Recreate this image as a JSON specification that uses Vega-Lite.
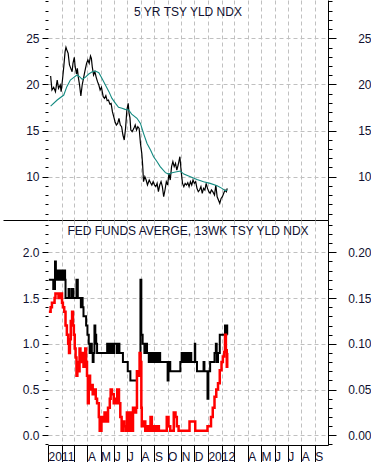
{
  "$schema": "https://vega.github.io/schema/vega-lite/v6.json",
  "background": "white",
  "padding": {"left": 0, "top": -5, "right": 0, "bottom": 0},
  "spacing": 0,
  "bounds": "flush",
  "config": {
    "view": {"stroke": null},
    "font": "Liberation Sans",
    "axis": {
      "labelFont": "Liberation Sans",
      "labelFontSize": 12,
      "labelColor": "#101030",
      "gridColor": "#c0c0c0",
      "gridDash": [4, 3],
      "gridWidth": 1,
      "tickColor": "#000000",
      "domainColor": "#000000",
      "labelOverlap": false,
      "labelFlush": false,
      "labelBound": false
    },
    "title": {"font": "Liberation Sans", "fontSize": 12, "fontWeight": "normal", "color": "#101030", "anchor": "middle", "frame": "group"}
  },
  "datasets": {
    "yld5": [
      {"date": "2011-01-07", "v": 20.91}, {"date": "2011-01-10", "v": 19.40}, {"date": "2011-01-14", "v": 19.69}, {"date": "2011-01-18", "v": 19.22},
      {"date": "2011-01-22", "v": 20.48}, {"date": "2011-01-25", "v": 19.58}, {"date": "2011-01-29", "v": 19.94}, {"date": "2011-01-31", "v": 19.22},
      {"date": "2011-02-03", "v": 20.48}, {"date": "2011-02-06", "v": 21.92}, {"date": "2011-02-09", "v": 23.55}, {"date": "2011-02-11", "v": 24.02},
      {"date": "2011-02-13", "v": 23.73}, {"date": "2011-02-16", "v": 23.37}, {"date": "2011-02-19", "v": 22.11}, {"date": "2011-02-22", "v": 21.74},
      {"date": "2011-02-25", "v": 21.38}, {"date": "2011-02-27", "v": 22.29}, {"date": "2011-03-02", "v": 22.94}, {"date": "2011-03-04", "v": 21.92},
      {"date": "2011-03-07", "v": 21.13}, {"date": "2011-03-09", "v": 21.74}, {"date": "2011-03-11", "v": 20.84}, {"date": "2011-03-14", "v": 19.94},
      {"date": "2011-03-17", "v": 18.75}, {"date": "2011-03-20", "v": 19.94}, {"date": "2011-03-23", "v": 20.66}, {"date": "2011-03-26", "v": 21.38},
      {"date": "2011-03-30", "v": 22.29}, {"date": "2011-04-02", "v": 22.65}, {"date": "2011-04-05", "v": 22.29}, {"date": "2011-04-08", "v": 23.08},
      {"date": "2011-04-10", "v": 22.83}, {"date": "2011-04-12", "v": 21.92}, {"date": "2011-04-15", "v": 21.02}, {"date": "2011-04-18", "v": 21.38},
      {"date": "2011-04-21", "v": 20.77}, {"date": "2011-04-24", "v": 20.30}, {"date": "2011-04-27", "v": 19.94}, {"date": "2011-04-30", "v": 19.40},
      {"date": "2011-05-03", "v": 19.69}, {"date": "2011-05-07", "v": 18.67}, {"date": "2011-05-10", "v": 18.49}, {"date": "2011-05-13", "v": 18.78},
      {"date": "2011-05-16", "v": 18.24}, {"date": "2011-05-19", "v": 18.31}, {"date": "2011-05-22", "v": 17.88}, {"date": "2011-05-25", "v": 17.95},
      {"date": "2011-05-28", "v": 17.05}, {"date": "2011-05-31", "v": 16.51}, {"date": "2011-06-03", "v": 15.96}, {"date": "2011-06-06", "v": 15.60},
      {"date": "2011-06-09", "v": 15.78}, {"date": "2011-06-12", "v": 16.33}, {"date": "2011-06-15", "v": 15.60}, {"date": "2011-06-18", "v": 15.42},
      {"date": "2011-06-21", "v": 14.52}, {"date": "2011-06-24", "v": 13.98}, {"date": "2011-06-27", "v": 15.24}, {"date": "2011-06-30", "v": 17.23},
      {"date": "2011-07-03", "v": 17.95}, {"date": "2011-07-05", "v": 16.87}, {"date": "2011-07-07", "v": 16.40}, {"date": "2011-07-09", "v": 15.06},
      {"date": "2011-07-12", "v": 14.88}, {"date": "2011-07-16", "v": 15.24}, {"date": "2011-07-19", "v": 15.60}, {"date": "2011-07-22", "v": 15.06},
      {"date": "2011-07-25", "v": 15.42}, {"date": "2011-07-28", "v": 15.24}, {"date": "2011-07-31", "v": 13.61}, {"date": "2011-08-03", "v": 12.53},
      {"date": "2011-08-05", "v": 11.27}, {"date": "2011-08-07", "v": 9.46}, {"date": "2011-08-10", "v": 10.00}, {"date": "2011-08-13", "v": 9.64},
      {"date": "2011-08-16", "v": 9.10}, {"date": "2011-08-20", "v": 9.64}, {"date": "2011-08-23", "v": 9.35}, {"date": "2011-08-26", "v": 9.10},
      {"date": "2011-08-29", "v": 9.46}, {"date": "2011-09-01", "v": 9.10}, {"date": "2011-09-04", "v": 8.92}, {"date": "2011-09-07", "v": 9.28},
      {"date": "2011-09-10", "v": 8.38}, {"date": "2011-09-13", "v": 9.10}, {"date": "2011-09-16", "v": 9.46}, {"date": "2011-09-19", "v": 8.92},
      {"date": "2011-09-22", "v": 7.83}, {"date": "2011-09-25", "v": 8.56}, {"date": "2011-09-28", "v": 9.46}, {"date": "2011-10-01", "v": 9.10},
      {"date": "2011-10-04", "v": 10.36}, {"date": "2011-10-07", "v": 9.64}, {"date": "2011-10-10", "v": 11.09}, {"date": "2011-10-13", "v": 11.63},
      {"date": "2011-10-16", "v": 11.09}, {"date": "2011-10-19", "v": 11.45}, {"date": "2011-10-22", "v": 10.72}, {"date": "2011-10-25", "v": 11.27},
      {"date": "2011-10-29", "v": 12.17}, {"date": "2011-11-01", "v": 10.54}, {"date": "2011-11-04", "v": 9.28}, {"date": "2011-11-07", "v": 8.92},
      {"date": "2011-11-10", "v": 9.28}, {"date": "2011-11-13", "v": 9.10}, {"date": "2011-11-16", "v": 9.35}, {"date": "2011-11-19", "v": 8.92},
      {"date": "2011-11-22", "v": 9.46}, {"date": "2011-11-25", "v": 9.10}, {"date": "2011-11-28", "v": 9.64}, {"date": "2011-12-01", "v": 9.28},
      {"date": "2011-12-04", "v": 9.46}, {"date": "2011-12-07", "v": 8.74}, {"date": "2011-12-10", "v": 8.38}, {"date": "2011-12-13", "v": 8.56},
      {"date": "2011-12-16", "v": 8.92}, {"date": "2011-12-19", "v": 8.20}, {"date": "2011-12-22", "v": 8.74}, {"date": "2011-12-25", "v": 8.56},
      {"date": "2011-12-28", "v": 9.28}, {"date": "2011-12-31", "v": 8.74}, {"date": "2012-01-03", "v": 8.38}, {"date": "2012-01-06", "v": 8.20},
      {"date": "2012-01-09", "v": 8.56}, {"date": "2012-01-12", "v": 8.38}, {"date": "2012-01-16", "v": 8.02}, {"date": "2012-01-19", "v": 9.10},
      {"date": "2012-01-22", "v": 7.83}, {"date": "2012-01-25", "v": 7.47}, {"date": "2012-01-28", "v": 7.11}, {"date": "2012-01-31", "v": 7.65},
      {"date": "2012-02-03", "v": 7.83}, {"date": "2012-02-06", "v": 8.20}, {"date": "2012-02-09", "v": 8.56}, {"date": "2012-02-12", "v": 8.38},
      {"date": "2012-02-14", "v": 8.74}
    ],
    "yld5ma": [
      {"date": "2011-01-07", "v": 17.66}, {"date": "2011-01-22", "v": 18.31}, {"date": "2011-02-06", "v": 18.85}, {"date": "2011-02-13", "v": 19.76},
      {"date": "2011-02-21", "v": 20.48}, {"date": "2011-03-01", "v": 20.77}, {"date": "2011-03-08", "v": 21.02}, {"date": "2011-03-14", "v": 20.84},
      {"date": "2011-03-20", "v": 20.55}, {"date": "2011-03-27", "v": 20.77}, {"date": "2011-04-04", "v": 21.13}, {"date": "2011-04-12", "v": 21.38},
      {"date": "2011-04-19", "v": 21.45}, {"date": "2011-04-27", "v": 21.27}, {"date": "2011-05-04", "v": 20.66}, {"date": "2011-05-12", "v": 19.94},
      {"date": "2011-05-20", "v": 19.22}, {"date": "2011-05-27", "v": 18.49}, {"date": "2011-06-04", "v": 17.95}, {"date": "2011-06-11", "v": 17.52},
      {"date": "2011-06-19", "v": 17.41}, {"date": "2011-06-26", "v": 17.30}, {"date": "2011-07-04", "v": 17.23}, {"date": "2011-07-11", "v": 16.79},
      {"date": "2011-07-23", "v": 16.33}, {"date": "2011-07-31", "v": 15.78}, {"date": "2011-08-07", "v": 14.70}, {"date": "2011-08-15", "v": 13.61},
      {"date": "2011-08-23", "v": 12.89}, {"date": "2011-08-30", "v": 12.17}, {"date": "2011-09-07", "v": 11.63}, {"date": "2011-09-14", "v": 11.09},
      {"date": "2011-09-26", "v": 10.44}, {"date": "2011-10-03", "v": 10.29}, {"date": "2011-10-11", "v": 10.44}, {"date": "2011-10-22", "v": 10.54},
      {"date": "2011-10-30", "v": 10.62}, {"date": "2011-11-07", "v": 10.29}, {"date": "2011-11-22", "v": 10.00}, {"date": "2011-12-07", "v": 9.71},
      {"date": "2011-12-22", "v": 9.46}, {"date": "2012-01-06", "v": 9.28}, {"date": "2012-01-22", "v": 9.03}, {"date": "2012-02-02", "v": 8.74},
      {"date": "2012-02-09", "v": 8.49}, {"date": "2012-02-14", "v": 8.56}
    ],
    "fedfunds": [
      {"date": "2011-01-03", "v": 1.7}, {"date": "2011-01-13", "v": 1.6}, {"date": "2011-01-17", "v": 1.9}, {"date": "2011-01-19", "v": 1.7},
      {"date": "2011-01-21", "v": 1.8}, {"date": "2011-01-24", "v": 1.7}, {"date": "2011-01-26", "v": 1.8}, {"date": "2011-01-28", "v": 1.7},
      {"date": "2011-02-01", "v": 1.8}, {"date": "2011-02-03", "v": 1.7}, {"date": "2011-02-07", "v": 1.8}, {"date": "2011-02-09", "v": 1.7},
      {"date": "2011-02-10", "v": 1.5}, {"date": "2011-02-17", "v": 1.6}, {"date": "2011-02-18", "v": 1.5}, {"date": "2011-02-23", "v": 1.6},
      {"date": "2011-02-24", "v": 1.5}, {"date": "2011-02-27", "v": 1.6}, {"date": "2011-02-28", "v": 1.5}, {"date": "2011-03-07", "v": 1.7},
      {"date": "2011-03-10", "v": 1.5}, {"date": "2011-03-17", "v": 1.4}, {"date": "2011-03-18", "v": 1.5}, {"date": "2011-03-21", "v": 1.4},
      {"date": "2011-03-23", "v": 1.3}, {"date": "2011-03-29", "v": 1.2}, {"date": "2011-04-01", "v": 1.1}, {"date": "2011-04-04", "v": 1.0},
      {"date": "2011-04-06", "v": 0.9}, {"date": "2011-04-08", "v": 1.0}, {"date": "2011-04-11", "v": 0.9}, {"date": "2011-04-13", "v": 0.8},
      {"date": "2011-04-15", "v": 0.9}, {"date": "2011-04-17", "v": 1.2}, {"date": "2011-04-19", "v": 1.1}, {"date": "2011-04-21", "v": 1.0},
      {"date": "2011-04-23", "v": 0.9}, {"date": "2011-05-16", "v": 1.0}, {"date": "2011-05-17", "v": 0.9}, {"date": "2011-05-18", "v": 1.0},
      {"date": "2011-05-19", "v": 0.9}, {"date": "2011-05-23", "v": 1.0}, {"date": "2011-05-24", "v": 0.9}, {"date": "2011-05-26", "v": 1.0},
      {"date": "2011-05-30", "v": 0.9}, {"date": "2011-06-01", "v": 1.0}, {"date": "2011-06-07", "v": 0.9}, {"date": "2011-06-10", "v": 1.0},
      {"date": "2011-06-13", "v": 0.9}, {"date": "2011-06-21", "v": 0.8}, {"date": "2011-07-02", "v": 0.7}, {"date": "2011-07-08", "v": 0.6},
      {"date": "2011-07-23", "v": 0.7}, {"date": "2011-07-31", "v": 1.7}, {"date": "2011-08-02", "v": 1.1}, {"date": "2011-08-05", "v": 1.0},
      {"date": "2011-08-09", "v": 0.9}, {"date": "2011-08-11", "v": 1.0}, {"date": "2011-08-15", "v": 0.9}, {"date": "2011-08-19", "v": 0.8},
      {"date": "2011-08-23", "v": 0.9}, {"date": "2011-08-26", "v": 0.8}, {"date": "2011-08-30", "v": 0.9}, {"date": "2011-09-03", "v": 0.8},
      {"date": "2011-09-07", "v": 0.9}, {"date": "2011-09-09", "v": 0.8}, {"date": "2011-09-12", "v": 0.9}, {"date": "2011-09-14", "v": 0.8},
      {"date": "2011-10-01", "v": 0.6}, {"date": "2011-10-03", "v": 0.8}, {"date": "2011-10-07", "v": 0.7}, {"date": "2011-10-30", "v": 0.8},
      {"date": "2011-11-02", "v": 0.9}, {"date": "2011-11-04", "v": 0.8}, {"date": "2011-11-07", "v": 0.9}, {"date": "2011-11-10", "v": 0.8},
      {"date": "2011-11-14", "v": 0.9}, {"date": "2011-11-17", "v": 0.8}, {"date": "2011-11-20", "v": 0.9}, {"date": "2011-11-24", "v": 0.8},
      {"date": "2011-12-02", "v": 1.0}, {"date": "2011-12-03", "v": 0.8}, {"date": "2011-12-07", "v": 0.7}, {"date": "2011-12-22", "v": 0.8},
      {"date": "2011-12-24", "v": 0.7}, {"date": "2011-12-31", "v": 0.4}, {"date": "2012-01-02", "v": 0.7}, {"date": "2012-01-06", "v": 0.8},
      {"date": "2012-01-16", "v": 0.9}, {"date": "2012-01-19", "v": 1.0}, {"date": "2012-01-21", "v": 0.8}, {"date": "2012-01-24", "v": 0.9},
      {"date": "2012-01-28", "v": 1.1}, {"date": "2012-02-09", "v": 1.2}, {"date": "2012-02-11", "v": 1.1}, {"date": "2012-02-12", "v": 1.2},
      {"date": "2012-02-14", "v": 1.1}
    ],
    "tbill": [
      {"date": "2011-01-03", "v": 1.35}, {"date": "2011-01-07", "v": 1.40}, {"date": "2011-01-10", "v": 1.45}, {"date": "2011-01-16", "v": 1.50},
      {"date": "2011-01-18", "v": 1.55}, {"date": "2011-01-25", "v": 1.50}, {"date": "2011-01-29", "v": 1.55}, {"date": "2011-02-02", "v": 1.45},
      {"date": "2011-02-04", "v": 1.40}, {"date": "2011-02-07", "v": 1.35}, {"date": "2011-02-10", "v": 1.20}, {"date": "2011-02-13", "v": 1.10},
      {"date": "2011-02-16", "v": 1.00}, {"date": "2011-02-18", "v": 0.90}, {"date": "2011-02-20", "v": 1.05}, {"date": "2011-02-22", "v": 1.25},
      {"date": "2011-02-25", "v": 1.35}, {"date": "2011-02-27", "v": 1.20}, {"date": "2011-03-01", "v": 1.10}, {"date": "2011-03-03", "v": 0.95},
      {"date": "2011-03-05", "v": 0.85}, {"date": "2011-03-07", "v": 0.65}, {"date": "2011-03-09", "v": 0.80}, {"date": "2011-03-11", "v": 0.70},
      {"date": "2011-03-14", "v": 0.95}, {"date": "2011-03-16", "v": 0.80}, {"date": "2011-03-20", "v": 0.90}, {"date": "2011-03-23", "v": 0.75},
      {"date": "2011-03-27", "v": 0.95}, {"date": "2011-03-29", "v": 0.80}, {"date": "2011-03-31", "v": 0.65}, {"date": "2011-04-02", "v": 0.35},
      {"date": "2011-04-04", "v": 0.65}, {"date": "2011-04-07", "v": 0.50}, {"date": "2011-04-10", "v": 0.55}, {"date": "2011-04-13", "v": 0.45},
      {"date": "2011-04-16", "v": 0.50}, {"date": "2011-04-20", "v": 0.40}, {"date": "2011-04-23", "v": 0.35}, {"date": "2011-04-27", "v": 0.20},
      {"date": "2011-04-29", "v": 0.05}, {"date": "2011-05-03", "v": 0.20}, {"date": "2011-05-06", "v": 0.15}, {"date": "2011-05-10", "v": 0.25},
      {"date": "2011-05-14", "v": 0.15}, {"date": "2011-05-18", "v": 0.30}, {"date": "2011-05-22", "v": 0.40}, {"date": "2011-05-24", "v": 0.50},
      {"date": "2011-05-27", "v": 0.45}, {"date": "2011-05-31", "v": 0.35}, {"date": "2011-06-03", "v": 0.40}, {"date": "2011-06-06", "v": 0.35},
      {"date": "2011-06-08", "v": 0.50}, {"date": "2011-06-12", "v": 0.35}, {"date": "2011-06-15", "v": 0.20}, {"date": "2011-06-18", "v": 0.05},
      {"date": "2011-06-21", "v": 0.15}, {"date": "2011-06-24", "v": 0.10}, {"date": "2011-06-27", "v": 0.05}, {"date": "2011-06-30", "v": 0.25},
      {"date": "2011-07-04", "v": 0.05}, {"date": "2011-07-08", "v": 0.25}, {"date": "2011-07-11", "v": 0.05}, {"date": "2011-07-14", "v": 0.30},
      {"date": "2011-07-18", "v": 0.25}, {"date": "2011-07-21", "v": 0.30}, {"date": "2011-07-23", "v": 0.70}, {"date": "2011-07-26", "v": 0.65},
      {"date": "2011-07-29", "v": 0.90}, {"date": "2011-07-31", "v": 0.80}, {"date": "2011-08-02", "v": 0.30}, {"date": "2011-08-03", "v": 0.10},
      {"date": "2011-08-07", "v": 0.15}, {"date": "2011-08-11", "v": 0.05}, {"date": "2011-08-15", "v": 0.10}, {"date": "2011-08-19", "v": 0.05},
      {"date": "2011-08-23", "v": 0.20}, {"date": "2011-08-26", "v": 0.05}, {"date": "2011-08-30", "v": 0.10}, {"date": "2011-09-03", "v": 0.05},
      {"date": "2011-09-07", "v": 0.10}, {"date": "2011-09-11", "v": 0.05}, {"date": "2011-09-26", "v": 0.05}, {"date": "2011-09-29", "v": 0.20},
      {"date": "2011-10-03", "v": 0.10}, {"date": "2011-10-07", "v": 0.05}, {"date": "2011-10-13", "v": 0.05}, {"date": "2011-10-15", "v": 0.25},
      {"date": "2011-10-19", "v": 0.20}, {"date": "2011-10-22", "v": 0.10}, {"date": "2011-10-26", "v": 0.05}, {"date": "2011-11-18", "v": 0.05},
      {"date": "2011-11-20", "v": 0.15}, {"date": "2011-12-03", "v": 0.05}, {"date": "2011-12-30", "v": 0.05}, {"date": "2011-12-31", "v": 0.10},
      {"date": "2012-01-04", "v": 0.10}, {"date": "2012-01-08", "v": 0.20}, {"date": "2012-01-12", "v": 0.30}, {"date": "2012-01-16", "v": 0.42},
      {"date": "2012-01-20", "v": 0.50}, {"date": "2012-01-24", "v": 0.57}, {"date": "2012-01-28", "v": 0.71}, {"date": "2012-02-01", "v": 0.80},
      {"date": "2012-02-04", "v": 0.86}, {"date": "2012-02-07", "v": 0.91}, {"date": "2012-02-09", "v": 1.10}, {"date": "2012-02-11", "v": 0.93},
      {"date": "2012-02-13", "v": 0.75}, {"date": "2012-02-14", "v": 0.90}
    ]
  },
  "vconcat": [
    {
      "width": 280,
      "height": 220,
      "title": {"text": "5 YR TSY YLD NDX", "offset": -24},
      "encoding": {
        "x": {"field": "date", "type": "temporal",
          "scale": {"type": "utc", "domain": [{"year": 2011, "month": 1, "date": 1, "utc": true}, {"year": 2012, "month": 10, "date": 1, "utc": true}]},
          "axis": {"title": null, "grid": true, "ticks": false, "labels": false, "domain": true, "tickCount": {"interval": "month", "step": 1},
            "gridOpacity": {"condition": {"test": "(utcyear(datum.value) === 2011 && utcmonth(datum.value) === 0) || (utcyear(datum.value) === 2012 && utcmonth(datum.value) === 9)", "value": 0}, "value": 1}}}
      },
      "layer": [
        {
          "data": {"name": "yld5"},
          "mark": {"type": "line", "color": "#000000", "strokeWidth": 1.2},
          "encoding": {
            "y": {"field": "v", "type": "quantitative",
              "scale": {"domain": [5.31, 29.15], "nice": false, "zero": false},
              "axis": {"title": null, "orient": "left", "domain": false, "grid": true,
                "values": [5.31,6,7,8,9,10,11,12,13,14,15,16,17,18,19,20,21,22,23,24,25,26,27,28,29],
                "labelExpr": "datum.value % 5 === 0 ? datum.label : ''",
                "tickSize": {"condition": [{"test": "datum.value < 5.5", "value": 45}, {"test": "datum.value % 5 === 0", "value": 6}], "value": 3},
                "gridOpacity": {"condition": {"test": "datum.value % 5 === 0", "value": 1}, "value": 0},
                "labelPadding": 3}}
          }
        },
        {
          "data": {"name": "yld5ma"},
          "mark": {"type": "line", "color": "#138a80", "strokeWidth": 1.1},
          "encoding": {
            "y": {"field": "v", "type": "quantitative",
              "scale": {"domain": [5.31, 29.15], "nice": false, "zero": false},
              "axis": {"title": null, "orient": "right", "domain": true, "grid": false,
                "values": [6,7,8,9,10,11,12,13,14,15,16,17,18,19,20,21,22,23,24,25,26,27,28,29],
                "labelExpr": "datum.value % 5 === 0 ? datum.label : ''",
                "tickSize": {"condition": {"test": "datum.value % 5 === 0", "value": 8}, "value": 4},
                "labelAlign": "right",
                "labelPadding": 35}}
          }
        }
      ],
      "resolve": {"axis": {"y": "independent"}}
    },
    {
      "width": 280,
      "height": 225,
      "title": {"text": "FED FUNDS AVERGE, 13WK TSY YLD NDX", "offset": -19},
      "encoding": {
        "x": {"field": "date", "type": "temporal",
          "scale": {"type": "utc", "domain": [{"year": 2011, "month": 1, "date": 1, "utc": true}, {"year": 2012, "month": 10, "date": 1, "utc": true}]},
          "axis": {"title": null, "grid": true, "ticks": true, "tickSize": 17, "labels": true, "domain": true,
            "tickCount": {"interval": "month", "step": 1},
            "gridOpacity": {"condition": {"test": "(utcyear(datum.value) === 2011 && utcmonth(datum.value) === 0) || (utcyear(datum.value) === 2012 && utcmonth(datum.value) === 9)", "value": 0}, "value": 1},
            "tickOpacity": {"condition": {"test": "utcyear(datum.value) === 2012 && utcmonth(datum.value) === 9", "value": 0}, "value": 1},
            "labelAlign": "left", "labelDx": 3, "labelBaseline": "alphabetic", "labelPadding": -2,
            "labelFont": "Liberation Sans Narrow, Liberation Sans", "labelFontSize": 12,
            "labelExpr": "utcmonth(datum.value) === 0 ? utcFormat(datum.value, '%Y') : ((utcmonth(datum.value) < 3 || (utcyear(datum.value) === 2012 && utcmonth(datum.value) > 8)) ? '' : substring(utcFormat(datum.value, '%b'), 0, 1))"}}
      },
      "layer": [
        {
          "data": {"name": "fedfunds"},
          "mark": {"type": "line", "color": "#000000", "strokeWidth": 2, "interpolate": "step-after"},
          "encoding": {
            "y": {"field": "v", "type": "quantitative",
              "scale": {"domain": [-0.106, 2.353], "nice": false, "zero": false},
              "axis": {"title": null, "orient": "left", "domain": false, "grid": true,
                "values": [-0.1,0,0.1,0.2,0.3,0.4,0.5,0.6,0.7,0.8,0.9,1,1.1,1.2,1.3,1.4,1.5,1.6,1.7,1.8,1.9,2,2.1,2.2,2.3],
                "labelExpr": "abs(datum.value*2 - round(datum.value*2)) < 0.001 ? format(datum.value, '.1f') : ''",
                "tickSize": {"condition": {"test": "abs(datum.value*2 - round(datum.value*2)) < 0.001", "value": 6}, "value": 3},
                "gridOpacity": {"condition": {"test": "abs(datum.value*2 - round(datum.value*2)) < 0.001", "value": 1}, "value": 0},
                "labelPadding": 3}}
          }
        },
        {
          "data": {"name": "tbill"},
          "mark": {"type": "line", "color": "#ff0000", "strokeWidth": 2.5, "interpolate": "step-after"},
          "encoding": {
            "y": {"field": "v", "type": "quantitative",
              "scale": {"domain": [-0.106, 2.353], "nice": false, "zero": false},
              "axis": {"title": null, "orient": "right", "domain": true, "grid": false,
                "values": [-0.1,0,0.1,0.2,0.3,0.4,0.5,0.6,0.7,0.8,0.9,1,1.1,1.2,1.3,1.4,1.5,1.6,1.7,1.8,1.9,2,2.1,2.2,2.3],
                "labelExpr": "abs(datum.value*2 - round(datum.value*2)) < 0.001 ? format(datum.value/10, '.2f') : ''",
                "tickSize": {"condition": {"test": "abs(datum.value*2 - round(datum.value*2)) < 0.001", "value": 8}, "value": 4},
                "labelAlign": "right",
                "labelPadding": 35}}
          }
        }
      ],
      "resolve": {"axis": {"y": "independent"}}
    }
  ]
}
